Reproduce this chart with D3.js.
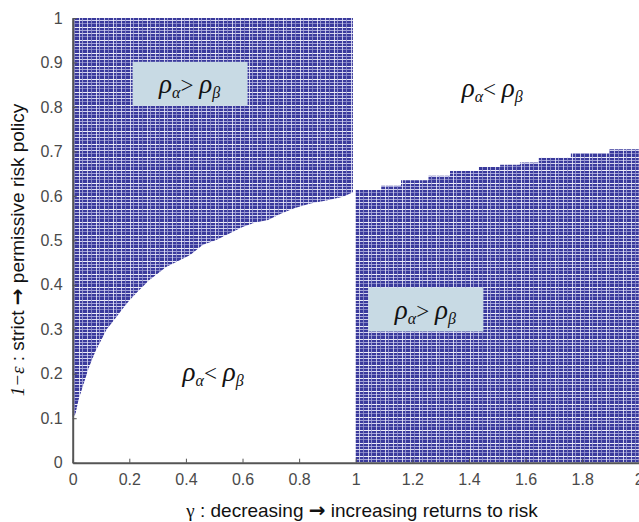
<!DOCTYPE html>
<html>
<head>
<meta charset="utf-8"/>
<style>
  body { margin: 0; background: #fff; }
  svg { display: block; }
</style>
</head>
<body>
<svg id="chart"></svg>
<script src="https://d3js.org/d3.v7.min.js"></script>
<script>
// Boundary: left region is filled ABOVE this curve
var leftGamma = [0, 0.01, 0.02, 0.03, 0.045, 0.055, 0.067, 0.08, 0.10, 0.12, 0.145, 0.175, 0.20, 0.23, 0.27, 0.33, 0.415, 0.46, 0.505, 0.60, 0.645, 0.69, 0.735, 0.785, 0.84, 0.90, 0.955, 0.99];
var leftEps   = [0.10, 0.11, 0.14, 0.16, 0.19, 0.21, 0.23, 0.25, 0.275, 0.30, 0.32, 0.345, 0.365, 0.385, 0.41, 0.44, 0.467, 0.49, 0.50, 0.53, 0.54, 0.546, 0.56, 0.573, 0.583, 0.59, 0.598, 0.608];

// Right region is filled BELOW this stepped boundary
var rightGamma = [1.0, 1.09, 1.16, 1.257, 1.333, 1.435, 1.51, 1.58, 1.645, 1.76, 1.895, 2.0];
var rightEps   = [0.613, 0.623, 0.635, 0.645, 0.656, 0.665, 0.67, 0.675, 0.686, 0.696, 0.705, 0.705];

var xTicks = [0, 0.2, 0.4, 0.6, 0.8, 1, 1.2, 1.4, 1.6, 1.8, 2];
var yTicks = [0, 0.1, 0.2, 0.3, 0.4, 0.5, 0.6, 0.7, 0.8, 0.9, 1];

// Region labels: [gamma, eps, relation, boxed]
var labels = [
  [0.413, 0.852, '>', true],
  [1.246, 0.3445, '>', true],
  [1.482, 0.843, '<', false],
  [0.496, 0.204, '<', false]
];

var W = 639, H = 522;
var svg = d3.select('#chart').attr('width', W).attr('height', H);

var x = d3.scaleLinear().domain([0, 2]).range([72.7, 638.8]);
var y = d3.scaleLinear().domain([0, 1]).range([462.7, 18]);

// dotted fill pattern imitating the dense marker grid
var defs = svg.append('defs');
var pat = defs.append('pattern')
  .attr('id', 'dots')
  .attr('patternUnits', 'userSpaceOnUse')
  .attr('width', 17).attr('height', 13);
pat.append('rect').attr('width', 17).attr('height', 13).attr('fill', '#3a3a9c');
[[1, '#ececf8'], [4, '#a4a4d8'], [7, '#d2d2ee'], [10, '#8484c6']].forEach(function(d) {
  pat.append('rect').attr('x', 0).attr('y', d[0]).attr('width', 17).attr('height', 1).attr('fill', d[1]);
});
[[2, '#dcdcf2'], [6, '#9494ce'], [11, '#eeeefa'], [14, '#a8a8da']].forEach(function(d) {
  pat.append('rect').attr('x', d[0]).attr('y', 0).attr('width', 1).attr('height', 13).attr('fill', d[1]).attr('opacity', 0.8);
});

var leftData = leftGamma.map(function(g, i) { return [g, leftEps[i]]; });
var rightData = rightGamma.map(function(g, i) { return [g, rightEps[i]]; });

var leftArea = d3.area()
  .x(function(d) { return x(d[0]); })
  .y0(function(d) { return y(d[1]); })
  .y1(y(1));
var rightArea = d3.area()
  .curve(d3.curveStepAfter)
  .x(function(d) { return x(d[0]); })
  .y0(y(0))
  .y1(function(d) { return y(d[1]); });

svg.append('path').attr('d', leftArea(leftData)).attr('fill', 'url(#dots)');
svg.append('path').attr('d', rightArea(rightData)).attr('fill', 'url(#dots)');

// axes
var axisColor = '#555';
var fmt = function(d) { return d3.format('~g')(d); };
var xAxis = svg.append('g')
  .attr('transform', 'translate(0,' + y(0) + ')')
  .call(d3.axisBottom(x).tickValues(xTicks).tickSizeInner(-4).tickSizeOuter(0).tickPadding(11).tickFormat(fmt));
var yAxis = svg.append('g')
  .attr('transform', 'translate(' + x(0) + ',0)')
  .call(d3.axisLeft(y).tickValues(yTicks).tickSizeInner(-4).tickSizeOuter(0).tickPadding(10).tickFormat(fmt));
[xAxis, yAxis].forEach(function(a) {
  a.select('.domain').attr('stroke', axisColor).attr('stroke-width', 2);
  a.selectAll('.tick line').attr('stroke', axisColor);
  a.selectAll('.tick text').attr('fill', '#4a4a4a').attr('font-size', 16)
    .attr('font-family', 'Liberation Sans, Arial, sans-serif');
});

// region labels
labels.forEach(function(d) {
  var cx = x(d[0]), cy = y(d[1]);
  if (d[3]) {
    svg.append('rect')
      .attr('x', cx - 57).attr('y', cy - 22)
      .attr('width', 115).attr('height', 44)
      .attr('fill', '#c8dae4');
  }
  var t = svg.append('text')
    .attr('x', cx).attr('y', cy + 9.5)
    .attr('text-anchor', 'middle')
    .attr('font-family', 'Liberation Serif, Times New Roman, serif')
    .attr('font-style', 'italic')
    .attr('font-size', 27)
    .attr('fill', '#111');
  t.append('tspan').text('ρ');
  t.append('tspan').attr('font-size', 16).attr('dy', 5).text('α');
  t.append('tspan').attr('font-style', 'normal').attr('font-size', 23).attr('dy', -5).text(d[2] + ' ');
  t.append('tspan').text('ρ');
  t.append('tspan').attr('font-size', 16).attr('dy', 5).text('β');
});

// axis titles
var xt = svg.append('text')
  .attr('x', 362).attr('y', 517)
  .attr('text-anchor', 'middle')
  .attr('font-family', 'Liberation Sans, Arial, sans-serif')
  .attr('font-size', 19).attr('fill', '#111');
xt.append('tspan').attr('font-family', 'Liberation Serif, serif').text('γ');
xt.append('tspan').text(' : decreasing ');
xt.append('tspan').attr('font-family', 'DejaVu Sans, sans-serif').attr('font-weight', 'bold').attr('font-size', 20).text('→');
xt.append('tspan').text(' increasing returns to risk');

var yt = svg.append('text')
  .attr('transform', 'translate(24,250) rotate(-90)')
  .attr('text-anchor', 'middle')
  .attr('font-family', 'Liberation Sans, Arial, sans-serif')
  .attr('font-size', 19).attr('fill', '#111');
yt.append('tspan').attr('font-family', 'Liberation Serif, serif').attr('font-style', 'italic').text('1−ε');
yt.append('tspan').text(' : strict ');
yt.append('tspan').attr('font-family', 'DejaVu Sans, sans-serif').attr('font-weight', 'bold').attr('font-size', 20).text('→');
yt.append('tspan').text(' permissive risk policy');
</script>
</body>
</html>
